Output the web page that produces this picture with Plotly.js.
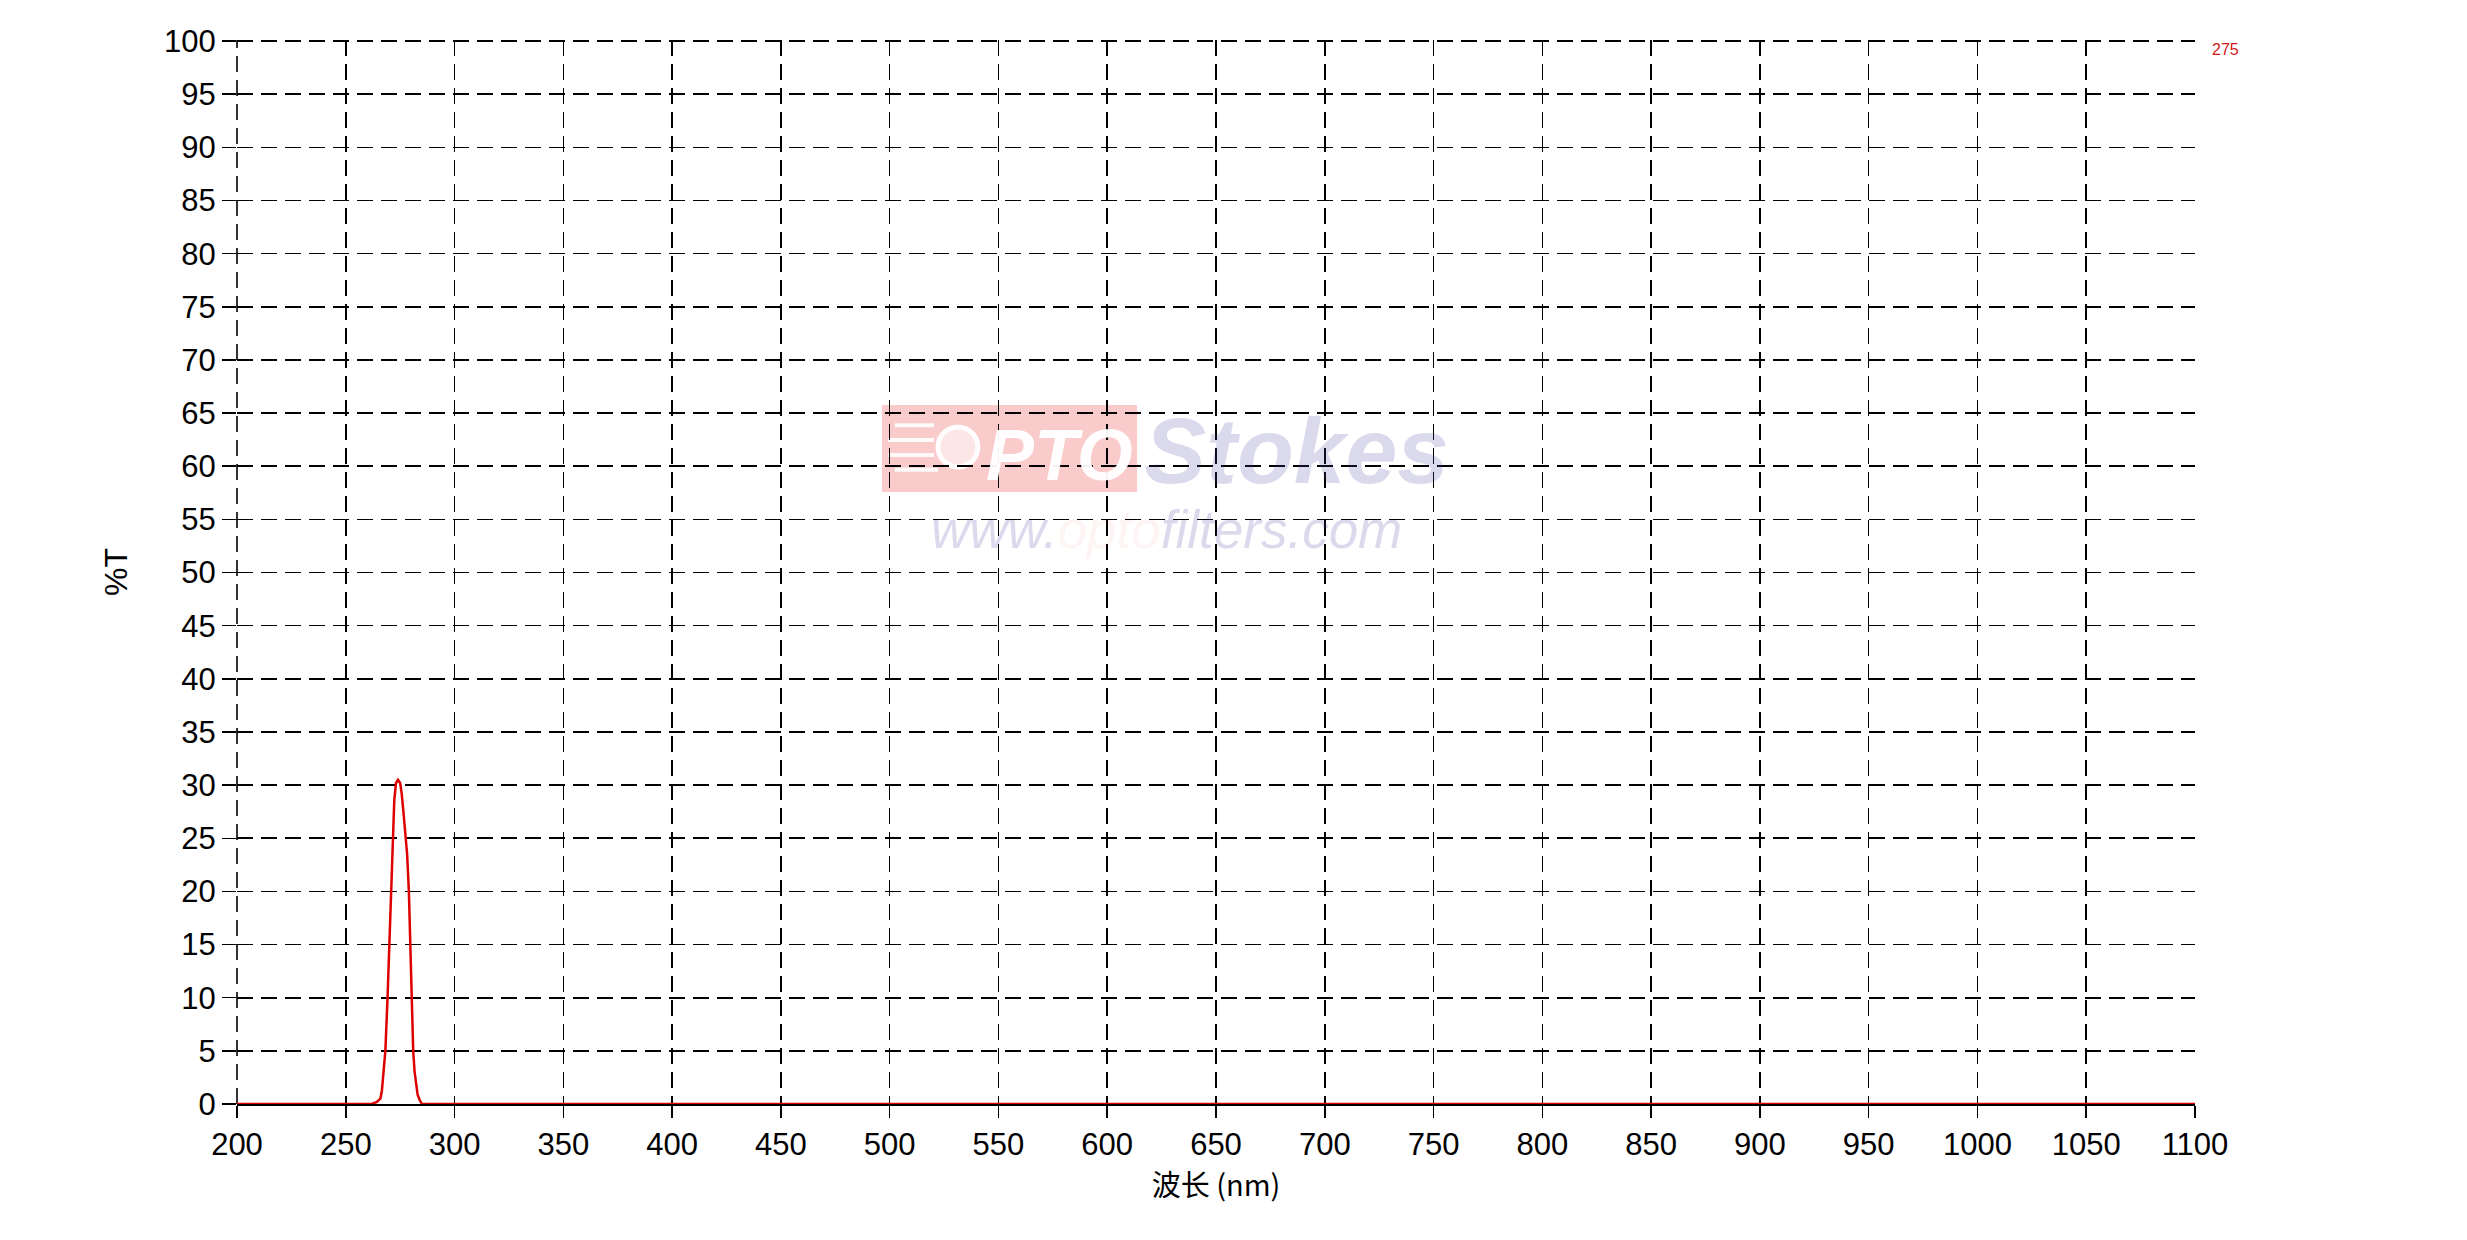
<!DOCTYPE html>
<html>
<head>
<meta charset="utf-8">
<script src="https://cdn.plot.ly/plotly-3.0.1.min.js"></script>
<style>
  html, body { margin: 0; padding: 0; background: #ffffff; }
  #chart { width: 2467px; height: 1240px; }
</style>
</head>
<body>
<div id="chart"></div>
<script>
// Wavelength (nm) and transmission (%T)
const wavelength = [200, 262, 264.3, 265.9, 266.6, 267.4, 268.2, 269.2, 270.1, 270.9, 271.7, 272.3, 273.1, 274.0, 275.0, 275.7, 276.4, 277.3, 278.2, 279.0, 279.6, 280.2, 281.0, 281.6, 282.4, 283.0, 283.9, 285.0, 400, 600, 800, 1000, 1100];
const transmission = [0, 0, 0.2, 0.5, 1.25, 3.1, 5, 10, 15, 20, 25, 28.6, 30.2, 30.5, 30.2, 29.2, 27.7, 25.8, 23.5, 20, 15, 10, 5, 3.1, 1.9, 0.9, 0.4, 0, 0, 0, 0, 0, 0];

const seriesName = "275";
const xTitle = "波长 (nm)";
const yTitle = "%T";
const xTickVals = [200, 250, 300, 350, 400, 450, 500, 550, 600, 650, 700, 750, 800, 850, 900, 950, 1000, 1050, 1100];
const yTickVals = [0, 5, 10, 15, 20, 25, 30, 35, 40, 45, 50, 55, 60, 65, 70, 75, 80, 85, 90, 95, 100];

const font = "Liberation Sans, Arial, sans-serif";

const trace = {
  x: wavelength,
  y: transmission,
  type: "scatter",
  mode: "lines",
  name: seriesName,
  line: { color: "#dd0000", width: 2.5 },
  showlegend: false,
  hoverinfo: "x+y"
};

const layout = {
  width: 2467,
  height: 1240,
  margin: { l: 237, r: 272, t: 40, b: 136, pad: 0 },
  paper_bgcolor: "#ffffff",
  plot_bgcolor: "#ffffff",
  font: { family: font, color: "#000000", size: 31 },
  xaxis: {
    range: [200, 1100],
    tickvals: xTickVals,
    ticktext: xTickVals.map(String),
    ticks: "outside",
    ticklen: 12,
    tickwidth: 1.5,
    tickcolor: "#000000",
    showgrid: true,
    gridcolor: "#000000",
    gridwidth: 1.6,
    griddash: "16px,8px",
    showline: true,
    linecolor: "#000000",
    linewidth: 2,
    zeroline: false,
    layer: "below traces",
    tickfont: { family: font, size: 31, color: "#000000" },
    title: { text: xTitle, font: { family: "Noto Sans CJK SC, Liberation Sans, sans-serif", size: 29, color: "#000000" }, standoff: 4 },
    fixedrange: true
  },
  yaxis: {
    range: [0, 100.1],
    tickvals: yTickVals,
    ticktext: yTickVals.map(String),
    ticks: "outside",
    ticklen: 14,
    tickwidth: 1.5,
    tickcolor: "#000000",
    showgrid: true,
    gridcolor: "#000000",
    gridwidth: 1.6,
    griddash: "16px,8px",
    showline: false,
    zeroline: false,
    tickfont: { family: font, size: 31, color: "#000000" },
    title: { text: yTitle, font: { family: font, size: 32, color: "#000000" }, standoff: 26 },
    fixedrange: true
  },
  shapes: [
    // dashed grid line along the left edge (x = 200), which Plotly drops at the range end
    { type: "line", xref: "paper", yref: "paper", x0: 0, x1: 0, y0: 0, y1: 1,
      line: { color: "#000000", width: 1.6, dash: "16px,8px" }, layer: "below" },
    { type: "rect", xref: "paper", yref: "paper", x0: 0.3294, x1: 0.4597, y0: 0.5752, y1: 0.657,
      fillcolor: "rgba(235,70,70,0.28)", line: { width: 0 }, layer: "below" },
    { type: "circle", xref: "paper", yref: "paper", x0: 0.358, x1: 0.3784, y0: 0.5987, y1: 0.6363,
      fillcolor: "rgba(255,255,255,0.55)", line: { color: "rgba(255,255,255,0.95)", width: 5 }, layer: "below" },
    { type: "line", xref: "paper", yref: "paper", x0: 0.336, x1: 0.356, y0: 0.638, y1: 0.638,
      line: { color: "rgba(255,255,255,0.9)", width: 4 }, layer: "below" },
    { type: "line", xref: "paper", yref: "paper", x0: 0.3325, x1: 0.356, y0: 0.624, y1: 0.624,
      line: { color: "rgba(255,255,255,0.9)", width: 4 }, layer: "below" },
    { type: "line", xref: "paper", yref: "paper", x0: 0.3325, x1: 0.356, y0: 0.610, y1: 0.610,
      line: { color: "rgba(255,255,255,0.9)", width: 4 }, layer: "below" },
    { type: "line", xref: "paper", yref: "paper", x0: 0.336, x1: 0.358, y0: 0.596, y1: 0.596,
      line: { color: "rgba(255,255,255,0.9)", width: 4 }, layer: "below" }
  ],
  annotations: [
    { text: seriesName, xref: "paper", yref: "paper", x: 1.0158, y: 0.9915, xanchor: "center", yanchor: "middle",
      showarrow: false, font: { family: font, size: 16, color: "#d01818" } },
    { text: "<b><i>PTO</i></b>", xref: "paper", yref: "paper", x: 0.4203, y: 0.610, xanchor: "center", yanchor: "middle",
      showarrow: false, font: { family: font, size: 72, color: "rgba(255,255,255,0.95)" } },
    { text: "<b><i>Stokes</i></b>", xref: "paper", yref: "paper", x: 0.5410, y: 0.6137, xanchor: "center", yanchor: "middle",
      showarrow: false, font: { family: font, size: 93, color: "rgba(70,70,160,0.2)" } },
    { text: "<i>www.<span style=\"color:rgba(230,60,60,0.28)\">opto</span>filters.com</i>", xref: "paper", yref: "paper",
      x: 0.4745, y: 0.5395, xanchor: "center", yanchor: "middle",
      showarrow: false, font: { family: font, size: 53, color: "rgba(70,70,160,0.2)" } }
  ]
};

Plotly.newPlot("chart", [trace], layout, { displayModeBar: false, staticPlot: true });
</script>
</body>
</html>
